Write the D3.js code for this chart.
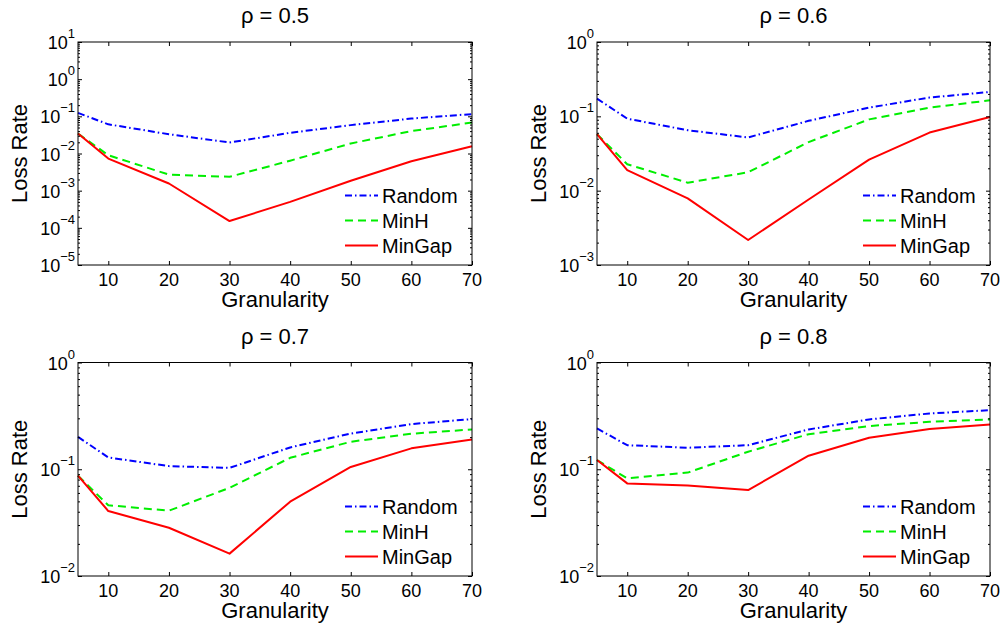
<!DOCTYPE html>
<html>
<head>
<meta charset="utf-8">
<script src="https://cdn.jsdelivr.net/npm/d3@7"></script>
<style>
  html, body { margin: 0; padding: 0; background: #fff; }
  svg { display: block; }
  text { font-family: "Liberation Sans", Arial, Helvetica, sans-serif; fill: #000; }
</style>
</head>
<body>
<svg id="chart" width="1005" height="630"></svg>
<script>
// ---------------- data ----------------
const granularity = [5, 10, 20, 30, 40, 50, 60, 70];
const xTicks = [10, 20, 30, 40, 50, 60, 70];
const seriesNames = ["Random", "MinH", "MinGap"];
const panelTitles = ["ρ = 0.5", "ρ = 0.6", "ρ = 0.7", "ρ = 0.8"];
const yExpRanges = [[-5, 1], [-3, 0], [-2, 0], [-2, 0]];

const random05 = [0.124, 0.061, 0.033, 0.0198, 0.036, 0.058, 0.087, 0.115];
const minH05   = [0.0344, 0.009, 0.0027, 0.00236, 0.0064, 0.0186, 0.040, 0.068];
const minGap05 = [0.0344, 0.0073, 0.00156, 0.000152, 0.0005, 0.00185, 0.0062, 0.0157];

const random06 = [0.173, 0.093, 0.065, 0.052, 0.087, 0.131, 0.179, 0.213];
const minH06   = [0.0575, 0.0227, 0.0128, 0.0177, 0.045, 0.091, 0.131, 0.164];
const minGap06 = [0.0575, 0.0189, 0.00786, 0.00217, 0.0076, 0.0262, 0.0605, 0.098];

const random07 = [0.201, 0.129, 0.107, 0.103, 0.160, 0.216, 0.265, 0.295];
const minH07   = [0.087, 0.046, 0.0409, 0.067, 0.128, 0.181, 0.215, 0.236];
const minGap07 = [0.087, 0.0406, 0.0283, 0.0162, 0.0497, 0.105, 0.157, 0.190];

const random08 = [0.241, 0.168, 0.159, 0.168, 0.236, 0.293, 0.333, 0.358];
const minH08   = [0.122, 0.082, 0.093, 0.146, 0.213, 0.254, 0.278, 0.293];
const minGap08 = [0.122, 0.0737, 0.0706, 0.0638, 0.134, 0.197, 0.238, 0.263];

const panelSeries = [
  [random05, minH05, minGap05],
  [random06, minH06, minGap06],
  [random07, minH07, minGap07],
  [random08, minH08, minGap08]
];

// ---------------- styles ----------------
const colors = ["#0000ff", "#00ee00", "#ff0000"];
const dashes = ["7,3,1.5,3", "8,5", null];

const boxes = [
  {l: 78,  r: 472, t: 42,    b: 265},
  {l: 597, r: 990, t: 42,    b: 265},
  {l: 78,  r: 472, t: 362.5, b: 576},
  {l: 597, r: 990, t: 362.5, b: 576}
];

const svg = d3.select("#chart");

boxes.forEach((bx, pi) => {
  const w = bx.r - bx.l, h = bx.b - bx.t;
  const g = svg.append("g").attr("transform", `translate(${bx.l},${bx.t})`);
  const [e0, e1] = yExpRanges[pi];
  const x = d3.scaleLinear().domain([5, 70]).range([0, w]);
  const y = d3.scaleLog().domain([Math.pow(10, e0), Math.pow(10, e1)]).range([h, 0]);

  const major = d3.range(e0, e1 + 1).map(e => Math.pow(10, e));
  const minor = [];
  for (let e = e0; e < e1; e++) for (let k = 2; k <= 9; k++) minor.push(k * Math.pow(10, e));

  // lines
  const line = d3.line().x((d, i) => x(granularity[i])).y(d => y(d));
  panelSeries[pi].forEach((vals, si) => {
    g.append("path")
      .datum(vals)
      .attr("d", line)
      .attr("fill", "none")
      .attr("stroke", colors[si])
      .attr("stroke-width", 2)
      .attr("stroke-dasharray", dashes[si])
      .attr("stroke-linejoin", "round");
  });

  // ticks (inward)
  const addAxis = (axis, tx, ty) => {
    const a = g.append("g").attr("transform", `translate(${tx},${ty})`).call(axis);
    a.select(".domain").remove();
    a.selectAll("text").remove();
    a.selectAll("line").attr("stroke", "#000").attr("stroke-width", 1);
    return a;
  };
  addAxis(d3.axisBottom(x).tickValues(xTicks).tickSize(-4).tickFormat(""), 0, h);
  addAxis(d3.axisTop(x).tickValues(xTicks).tickSize(-4).tickFormat(""), 0, 0);
  addAxis(d3.axisLeft(y).tickValues(major).tickSize(-4).tickFormat(""), 0, 0);
  addAxis(d3.axisRight(y).tickValues(major).tickSize(-4).tickFormat(""), w, 0);
  addAxis(d3.axisLeft(y).tickValues(minor).tickSize(-2).tickFormat(""), 0, 0);
  addAxis(d3.axisRight(y).tickValues(minor).tickSize(-2).tickFormat(""), w, 0);

  // box
  g.append("rect").attr("x", 0).attr("y", 0).attr("width", w).attr("height", h)
    .attr("fill", "none").attr("stroke", "#000").attr("stroke-width", 1);

  // x tick labels
  g.selectAll(".xl").data(xTicks).enter().append("text")
    .attr("x", d => x(d)).attr("y", h + 21)
    .attr("text-anchor", "middle").attr("font-size", 18)
    .text(d => d);

  // y tick labels 10^e
  d3.range(e0, e1 + 1).forEach(e => {
    const t = g.append("text")
      .attr("x", -3).attr("y", y(Math.pow(10, e)) + 7)
      .attr("text-anchor", "end").attr("font-size", 18);
    t.append("tspan").text("10");
    t.append("tspan").attr("font-size", 13).attr("dy", -11)
      .text(e < 0 ? "\u2212" + (-e) : String(e));
  });

  // axis labels and title
  g.append("text").attr("x", w / 2).attr("y", h + 42)
    .attr("text-anchor", "middle").attr("font-size", 22).text("Granularity");
  g.append("text")
    .attr("transform", `translate(-51,${h / 2}) rotate(-90)`)
    .attr("text-anchor", "middle").attr("font-size", 22).text("Loss Rate");
  g.append("text").attr("x", w / 2).attr("y", -19)
    .attr("text-anchor", "middle").attr("font-size", 22).text(panelTitles[pi]);

  // legend
  const lg = g.append("g");
  seriesNames.forEach((name, si) => {
    const ry = h - 19.5 - (2 - si) * 25;
    lg.append("line")
      .attr("x1", w - 127).attr("x2", w - 94)
      .attr("y1", ry).attr("y2", ry)
      .attr("stroke", colors[si]).attr("stroke-width", 2)
      .attr("stroke-dasharray", dashes[si]);
    lg.append("text").attr("x", w - 90).attr("y", ry + 7)
      .attr("font-size", 20).text(name);
  });
});
</script>
</body>
</html>
